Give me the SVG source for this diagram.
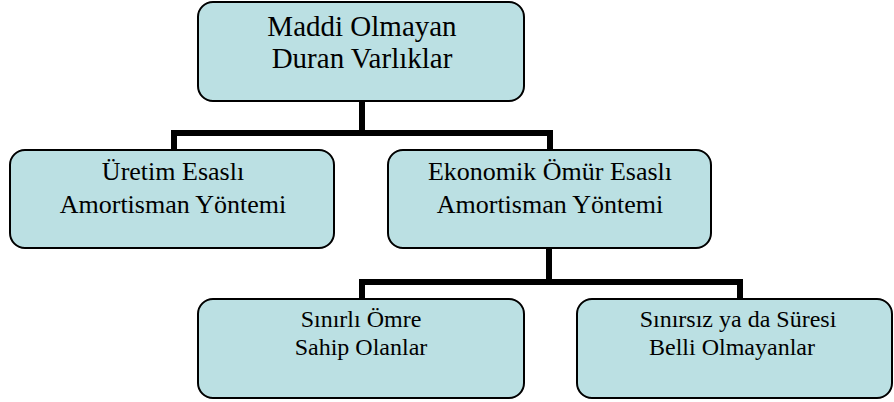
<svg xmlns="http://www.w3.org/2000/svg" width="894" height="402" viewBox="0 0 894 402">
<style>
.box{fill:#bbe0e3;stroke:#000;stroke-width:2}
.conn{fill:none;stroke:#000;stroke-width:6;stroke-linejoin:miter}
text{font-family:"Liberation Serif","Times New Roman",serif;fill:#000;text-anchor:middle}
.t1{font-size:29px}
.t2{font-size:26px}
.t3{font-size:24px}
</style>
<rect width="894" height="402" fill="#fff"/>
<g id="connectors">
<path class="conn" d="M362 101 V133"/>
<path class="conn" d="M174 150 V133 H550 V150"/>
<path class="conn" d="M549 248 V282"/>
<path class="conn" d="M362 299 V282 H740 V299"/>
</g>
<g id="n-root">
<rect class="box" x="198" y="2" width="326" height="99" rx="15"/>
<text class="t1" x="362" y="36">Maddi Olmayan</text>
<text class="t1" x="362" y="68">Duran Varlıklar</text>
</g>
<g id="n-uretim">
<rect class="box" x="10" y="150" width="324" height="98" rx="15"/>
<text class="t2" x="173" y="180">Üretim Esaslı</text>
<text class="t2" x="173" y="213">Amortisman Yöntemi</text>
</g>
<g id="n-ekonomik">
<rect class="box" x="388" y="150" width="323" height="98" rx="15"/>
<text class="t2" x="550" y="180">Ekonomik Ömür Esaslı</text>
<text class="t2" x="550" y="213">Amortisman Yöntemi</text>
</g>
<g id="n-sinirli">
<rect class="box" x="198" y="299" width="326" height="99" rx="15"/>
<text class="t3" x="361" y="327">Sınırlı Ömre</text>
<text class="t3" x="361" y="355">Sahip Olanlar</text>
</g>
<g id="n-sinirsiz">
<rect class="box" x="577" y="299" width="315" height="99" rx="15"/>
<text class="t3" x="738" y="327">Sınırsız ya da Süresi</text>
<text class="t3" x="732" y="355">Belli Olmayanlar</text>
</g>
</svg>
